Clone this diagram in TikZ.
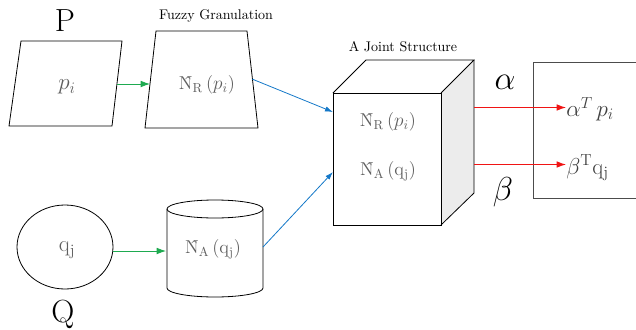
\documentclass[tikz,border=0pt]{standalone}
\usetikzlibrary{arrows.meta}
\definecolor{grn}{RGB}{30,170,80}
\definecolor{blu}{RGB}{20,120,200}
\definecolor{rd}{RGB}{240,20,20}
\definecolor{txtgray}{RGB}{95,95,95}
\begin{document}
\begin{tikzpicture}[x=0.75pt,y=-0.75pt,
  shapeline/.style={draw=black,line width=0.6pt},
  lbl/.style={inner sep=0pt,font=\fontsize{24}{26}\selectfont},
  title/.style={inner sep=0pt,font=\fontsize{10.5}{12}\selectfont},
  inner/.style={inner sep=0pt,text=txtgray,font=\fontsize{14}{16}\selectfont},
  outtxt/.style={inner sep=0pt,anchor=west,text=black!75,font=\fontsize{17}{19}\selectfont},
  greek/.style={inner sep=0pt,font=\fontsize{24}{26}\selectfont},
  garrow/.style={draw=grn,line width=0.6pt,-{Latex[length=7pt,width=5pt]}},
  barrow/.style={draw=blu,line width=0.6pt,-{Latex[length=6pt,width=4pt]}},
  rarrow/.style={draw=rd,line width=0.75pt,-{Latex[length=7pt,width=5pt]}}]
\useasboundingbox (0,0) rectangle (636,329);

% P parallelogram
\draw[shapeline] (21,41) -- (122,41) -- (112,126) -- (9,126) -- cycle;
\coordinate (pout) at (117,84);
\node[inner,font=\fontsize{17}{19}\selectfont] (pi) at (67,87) {$p_i$};
\node[lbl] (P) at (65,21) {P};

% Fuzzy granulation trapezoid
\draw[shapeline] (156,31) -- (247,31) -- (258,128) -- (145,128) -- cycle;
\coordinate (tin) at (150,84);
\coordinate (tout) at (252,79);
\node[title] (fg) at (216,16) {Fuzzy Granulation};
\node[inner] (nr1) at (207,85) {\^{N}\textsubscript{R}\,($p_i$)};

% Q ellipse
\draw[shapeline] (65,247) ellipse [x radius=48, y radius=42];
\coordinate (qout) at (113,251);
\node[inner,font=\fontsize{17}{19}\selectfont] (qj) at (67,250) {q\textsubscript{j}};
\node[lbl] (Q) at (63,314) {Q};

% cylinder
\draw[shapeline] (215,209) ellipse [x radius=48, y radius=9];
\draw[shapeline] (167,209) -- (167,288) arc[start angle=180,end angle=0,x radius=48,y radius=9] -- (263,209);
\coordinate (cin) at (166,251);
\coordinate (cout) at (263,247);
\node[inner] (na1) at (213,249) {\^{N}\textsubscript{A}\,(q\textsubscript{j})};

% cube
\fill[gray!15] (441,93) -- (474,60) -- (474,193) -- (441,225) -- cycle;
\draw[shapeline] (333,93) rectangle (441,225);
\draw[shapeline] (333,93) -- (366,60) -- (474,60) -- (441,93);
\draw[shapeline] (474,60) -- (474,193) -- (441,225);
\node[title] (js) at (403,47) {A Joint Structure};
\coordinate (cubeinA) at (333,112);
\coordinate (cubeinB) at (333,172);
\coordinate (cubeoutA) at (474,107.5);
\coordinate (cubeoutB) at (474,164.5);
\node[inner] (nr2) at (388,122) {\^{N}\textsubscript{R}\,($p_i$)};
\node[inner] (na2) at (388,171) {\^{N}\textsubscript{A}\,(q\textsubscript{j})};

% output box (right side cut off)
\draw[draw=black!70,line width=0.6pt] (640,62) -- (533,62) -- (533,198) -- (640,198);
\node[outtxt] (ap) at (566,109) {$\alpha^{T}\,p_i$};
\node[outtxt] (bq) at (566,168) {$\beta^{\mathrm{T}}$q\textsubscript{j}};
\node[greek] (al) at (505,82) {$\alpha$};
\node[greek] (be) at (503,192) {$\beta$};

% connectors
\draw[garrow] (pout) -- (tin);
\draw[garrow] (qout) -- (cin);
\draw[barrow] (tout) -- (cubeinA);
\draw[barrow] (cout) -- (cubeinB);
\draw[rarrow] (cubeoutA) -- (cubeoutA -| ap.west);
\draw[rarrow] (cubeoutB) -- (cubeoutB -| bq.west);
\end{tikzpicture}
\end{document}
